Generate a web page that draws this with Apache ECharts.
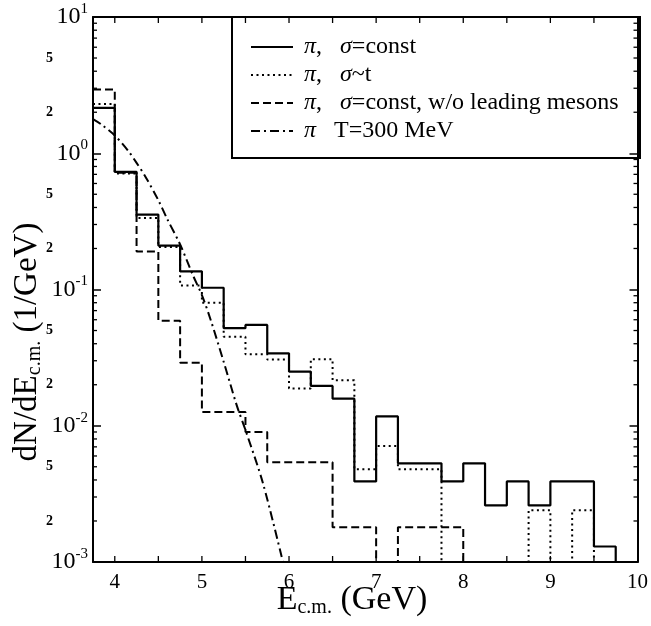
<!DOCTYPE html>
<html><head><meta charset="utf-8">
<script src="https://cdn.jsdelivr.net/npm/echarts@6/dist/echarts.min.js"></script>
<style>html,body{margin:0;padding:0;background:#fff}#c{width:651px;height:626px}</style>
</head><body><div id="c"></div>
<script>
// ---- data ----
const binStarts = [3.75,4.0,4.25,4.5,4.75,5.0,5.25,5.5,5.75,6.0,6.25,6.5,6.75,7.0,7.25,7.5,7.75,8.0,8.25,8.5,8.75,9.0,9.25,9.5,9.75];
const binEnd = 10.0;
const sigmaConst = [2.15,0.73,0.355,0.21,0.136,0.103,0.052,0.055,0.034,0.025,0.0196,0.0158,0.0039,0.0117,0.0053,0.0053,0.0039,0.0053,0.0026,0.0039,0.0026,0.0039,0.0039,0.0013,0];
const sigmaT = [2.3,0.71,0.335,0.205,0.107,0.080,0.045,0.0335,0.0306,0.0188,0.0308,0.0216,0.0048,0.0071,0.0048,0.0048,0,0,0,0,0.0024,0,0.0024,0,0];
const noLeading = [2.94,0.72,0.19,0.059,0.029,0.0126,0.0126,0.009,0.0054,0.0054,0.0054,0.0018,0.0018,0,0.0018,0.0018,0.0018,0,0,0,0,0,0,0,0];
const thermalE = [3.75,3.85,4.0,4.15,4.25,4.35,4.5,4.6,4.75,4.9,5.0,5.1,5.25,5.4,5.5,5.7,5.93];
const thermalV = [1.78,1.62,1.35,1.05,0.85,0.676,0.452,0.331,0.214,0.126,0.091,0.060,0.0295,0.0141,0.0093,0.0038,0.001];
const seriesNames = ['π,   σ=const', 'π,   σ~t', 'π,   σ=const, w/o leading mesons', 'π   T=300 MeV'];
const xTickValues = [4,4.5,5,5.5,6,6.5,7,7.5,8,8.5,9,9.5];
const yDecades = [0.001,0.01,0.1,1];
const yMinorMantissas = [2,3,4,5,6,7,8,9];
const yMinorLabelMantissas = [2,5];

const F = 'Liberation Serif, Times New Roman, serif';
const FLOOR = 1e-4; // empty bins drop below the axis floor
function hist(vals){
  const d = binStarts.map((x,i)=>[x, vals[i] > 0 ? vals[i] : FLOOR]);
  const last = vals[vals.length-1];
  d.push([binEnd, last > 0 ? last : FLOOR]);
  return d;
}

// decoration marks (ticks/minor labels) through the axes' scales
const decoData = [], decoText = [];
xTickValues.forEach(v=>{decoData.push([v,1,0]); decoText.push('');});
yDecades.forEach(d=>yMinorMantissas.forEach(m=>{decoData.push([4, m*d, 1]); decoText.push('');}));
yDecades.forEach(d=>yMinorLabelMantissas.forEach(m=>{decoData.push([4, m*d, 2]); decoText.push(String(m));}));

const chart = echarts.init(document.getElementById('c'));
const axisLineStyle = {color:'#000', width:2};
chart.setOption({
  animation:false,
  backgroundColor:'#fff',
  grid:{left:93, right:11, top:17, bottom:64},
  xAxis:[
    {type:'value', min:3.75, max:10, interval:0.25, position:'bottom',
     axisLine:{onZero:false, lineStyle:axisLineStyle}, axisTick:{show:false}, splitLine:{show:false},
     axisLabel:{color:'#000', fontFamily:F, fontSize:21, margin:10,
       formatter:v=> Number.isInteger(v) ? String(v) : ''}},
    {type:'value', min:3.75, max:10, interval:0.25, position:'top',
     axisLine:{onZero:false, lineStyle:axisLineStyle}, axisTick:{show:false}, splitLine:{show:false}, axisLabel:{show:false}}
  ],
  yAxis:[
    {type:'log', logBase:10, min:0.001, max:10, position:'left',
     axisLine:{onZero:false, lineStyle:axisLineStyle},
     axisTick:{inside:true, length:8, lineStyle:{color:'#000', width:1.5}},
     splitLine:{show:false},
     axisLabel:{color:'#000', margin:5,
       formatter:v=>{const e=Math.round(Math.log10(v)); return '{b|10}{e|'+e+'}';},
       rich:{b:{fontFamily:F, fontSize:24, color:'#000'},
             e:{fontFamily:F, fontSize:15, color:'#000', padding:[0,0,16,0]}}}},
    {type:'log', logBase:10, min:0.001, max:10, position:'right',
     axisLine:{onZero:false, lineStyle:axisLineStyle},
     axisTick:{inside:true, length:8, lineStyle:{color:'#000', width:1.5}},
     splitLine:{show:false}, axisLabel:{show:false}}
  ],
  legend:{
    data:seriesNames, orient:'vertical', left:250, top:35, padding:0, itemWidth:42, itemHeight:14, itemGap:4,
    selectedMode:false,
    itemStyle:{opacity:0},
    formatter:n=>n.replace('π','{i|π}').replace('σ','{i|σ}'),
    textStyle:{fontFamily:F, fontSize:24, color:'#000', lineHeight:23, padding:[0,0,0,6],
      rich:{i:{fontFamily:F, fontSize:24, fontStyle:'italic', color:'#000'}}}
  },
  graphic:[
    {type:'rect', shape:{x:232, y:17, width:408, height:141}, style:{fill:null, stroke:'#000', lineWidth:2}, z:10},
    {type:'text', x:352, y:600, style:{text:'{a|E}{s|c.m.}{a| (GeV)}', align:'center', verticalAlign:'middle',
      rich:{a:{fontFamily:F, fontSize:34, fill:'#000'}, s:{fontFamily:F, fontSize:20, fill:'#000', padding:[16,0,0,0]}}}},
    {type:'text', x:27, y:342, rotation:Math.PI/2, style:{text:'{a|dN/dE}{s|c.m.}{a| (1/GeV)}', align:'center', verticalAlign:'middle',
      rich:{a:{fontFamily:F, fontSize:33, fill:'#000'}, s:{fontFamily:F, fontSize:20, fill:'#000', padding:[16,0,0,0]}}}}
  ],
  series:[
    {name:seriesNames[0], type:'line', step:'end', symbol:'none', data:hist(sigmaConst), clip:true,
     lineStyle:{color:'#000', width:2.2, type:'solid'}, itemStyle:{color:'#000'}},
    {name:seriesNames[1], type:'line', step:'end', symbol:'none', data:hist(sigmaT), clip:true,
     lineStyle:{color:'#000', width:2, type:[2,3.5]}, itemStyle:{color:'#000'}},
    {name:seriesNames[2], type:'line', step:'end', symbol:'none', data:hist(noLeading), clip:true,
     lineStyle:{color:'#000', width:2, type:[8,4]}, itemStyle:{color:'#000'}},
    {name:seriesNames[3], type:'line', symbol:'none', data:thermalE.map((e,i)=>[e,thermalV[i]]), clip:true, smooth:0.3,
     lineStyle:{color:'#000', width:2, type:[9,4,2,4]}, itemStyle:{color:'#000'}},
    {type:'custom', data:decoData, silent:true, z:5,
     renderItem:(params, api)=>{
       const cs = params.coordSys, kind = api.value(2);
       const p = api.coord([api.value(0), api.value(1)]);
       const st = {stroke:'#000', lineWidth:1.3};
       if (kind === 0) {
         const yb = cs.y + cs.height;
         return {type:'group', children:[
           {type:'line', shape:{x1:p[0], y1:yb, x2:p[0], y2:yb-6}, style:st},
           {type:'line', shape:{x1:p[0], y1:cs.y, x2:p[0], y2:cs.y+6}, style:st}]};
       } else if (kind === 1) {
         const xr = cs.x + cs.width;
         return {type:'group', children:[
           {type:'line', shape:{x1:cs.x, y1:p[1], x2:cs.x+4, y2:p[1]}, style:st},
           {type:'line', shape:{x1:xr, y1:p[1], x2:xr-4, y2:p[1]}, style:st}]};
       } else {
         return {type:'text', x:cs.x-40, y:p[1], style:{text:decoText[params.dataIndex], align:'right', verticalAlign:'middle',
           font:'bold 14px ' + F, fill:'#000'}};
       }
     }}
  ]
});
</script></body></html>
